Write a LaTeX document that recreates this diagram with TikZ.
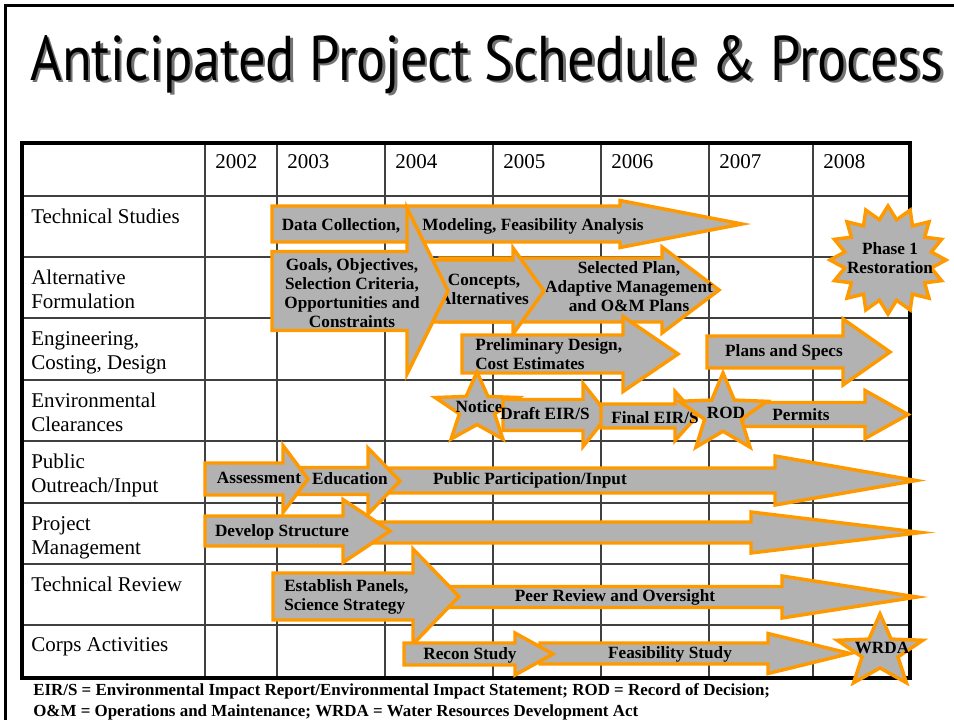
\documentclass[tikz,border=0pt]{standalone}
\usepackage{fontspec}
\setmainfont{Liberation Serif}
\newfontfamily\titlefont{PT Sans}
\usetikzlibrary{calc}

% block arrow: start, head back, tip, mid y, half body, half head
\newcommand{\blockarrow}[6]{%
  \draw[arrowbox] (#1,#4-#5) -- (#2,#4-#5) -- (#2,#4-#6) -- (#3,#4)
    -- (#2,#4+#6) -- (#2,#4+#5) -- (#1,#4+#5) -- cycle;}

% star: centre x, centre y, radius x, radius y, points, inner ratio
\newcommand{\starburst}[6]{%
  \pgfmathtruncatemacro{\nlast}{2*#5-1}%
  \draw[arrowbox] (#1,#2-#4)
    \foreach \k in {1,...,\nlast} {
      -- ({#1+#3*cos(-90+180/#5*\k)*(1-(1-#6)*mod(\k,2))},
          {#2+#4*sin(-90+180/#5*\k)*(1-(1-#6)*mod(\k,2))})
    } -- cycle;}

\begin{document}
\begin{tikzpicture}[x=0.75pt,y=-0.75pt]
    % Color definitions
    \colorlet{boxfill}{black!30}
    \definecolor{boxline}{RGB}{255,153,0}
    \colorlet{gridcol}{black!75}

    % TikZ style definitions
    \tikzset{
      arrowbox/.style={fill=boxfill,draw=boxline,line width=2.6pt,line join=miter},
      gridline/.style={gridcol,line width=1.5pt},
      boxtext/.style={font=\bfseries\fontsize{12.9}{14.2}\selectfont,align=center,inner sep=0pt},
      rowtext/.style={font=\fontsize{15.75}{18}\selectfont,align=left,anchor=north west,inner sep=0pt},
      yeartext/.style={font=\fontsize{15.75}{18}\selectfont,anchor=base west,inner sep=0pt},
      legendtext/.style={font=\bfseries\fontsize{12.7}{15}\selectfont,anchor=base west,inner sep=0pt}
    }
    \useasboundingbox (0,0) rectangle (954,719);

    % Slide frame and title
    \draw[line width=2.25pt] (5,725) -- (5,5) -- (960,5);
    \node[anchor=base west,inner sep=0pt,black!55] (titleshadow) at (32.5,82.5)
      {\resizebox{684.75pt}{33.75pt}{\titlefont Anticipated Project Schedule \& Process}};
    \node[anchor=base west,inner sep=0pt] (title) at (30,80)
      {\resizebox{684.75pt}{33.75pt}{\titlefont Anticipated Project Schedule \& Process}};

    % Table
    \foreach \y in {196,257,318,380,441,503,564,625}
      \draw[gridline] (22,\y) -- (910,\y);
    \foreach \x in {205,277,385,493,601,709,813}
      \draw[gridline] (\x,143) -- (\x,678);
    \draw[line width=2.4pt] (22,143) rectangle (910,678);

    \foreach \x/\yr in {205/2002,277/2003,385/2004,493/2005,601/2006,709/2007,813/2008}
      \node[yeartext] (year\yr) at (\x+10,168) {\yr};

    \node[rowtext] (techstudies) at (31,209) {Technical Studies};
    \node[rowtext] (altform)     at (31,270) {Alternative\\Formulation};
    \node[rowtext] (engcost)     at (31,331) {Engineering,\\Costing, Design};
    \node[rowtext] (envclear)    at (31,393) {Environmental\\Clearances};
    \node[rowtext] (outreach)    at (31,454) {Public\\Outreach/Input};
    \node[rowtext] (projmgmt)    at (31,516) {Project\\Management};
    \node[rowtext] (techreview)  at (31,577) {Technical Review};
    \node[rowtext] (corps)       at (31,637) {Corps Activities};

    % Technical studies / alternative formulation
    \blockarrow{272}{620}{742}{224}{18}{23.5}
    \node[boxtext] (datacoll) at (341,226) {Data Collection,};
    \node[boxtext] (modeling) at (533,226) {Modeling, Feasibility Analysis};
    \blockarrow{440}{662}{719}{290}{32}{43}
    \node[boxtext] (selplan) at (629,287) {Selected Plan,\\Adaptive Management\\and O\&M Plans};
    \blockarrow{420}{513}{544}{291}{31}{43}
    \node[boxtext] (concepts) at (484,289) {Concepts,\\Alternatives};
    \blockarrow{272}{407}{448}{291}{39.5}{83}
    \node[boxtext] (goals) at (352,293) {Goals, Objectives,\\Selection Criteria,\\Opportunities and\\Constraints};

    % Engineering
    \blockarrow{462}{623}{678}{354}{19}{37.5}
    \node[boxtext,align=left,anchor=west] (prelim) at (475,354) {Preliminary Design,\\Cost Estimates};
    \blockarrow{707}{843}{890}{352}{16}{33}
    \node[boxtext] (plans) at (784,352) {Plans and Specs};

    % Environmental clearances
    \starburst{477}{409}{44}{37}{5}{0.42}
    \node[boxtext] (notice) at (479,407) {Notice};
    \blockarrow{503}{583}{608}{415}{15.5}{31.5}
    \node[boxtext] (draft) at (545,414) {Draft EIR/S};
    \blockarrow{601}{675}{697}{416}{12}{24.5}
    \node[boxtext] (final) at (655,418) {Final EIR/S};
    \blockarrow{743}{865}{908}{414.5}{12}{24}
    \node[boxtext] (permits) at (801,415) {Permits};
    \starburst{723}{414}{46}{41}{5}{0.42}
    \node[boxtext] (rod) at (726,413) {ROD};

    % Public outreach
    \blockarrow{390}{775}{916}{480.5}{12.5}{24.5}
    \node[boxtext] (participation) at (530,480) {Public Participation/Input};
    \blockarrow{290}{368}{400}{481}{13.5}{33}
    \node[boxtext] (education) at (350,479) {Education};
    \blockarrow{205}{283}{308}{479}{16}{33.5}
    \node[boxtext] (assessment) at (259,478) {Assessment};

    % Project management
    \blockarrow{370}{751}{921}{532.5}{10.5}{20.5}
    \blockarrow{205}{343}{390}{531}{15}{31.5}
    \node[boxtext] (develop) at (282,532) {Develop Structure};

    % Technical review
    \blockarrow{440}{782}{917}{597}{10.5}{21}
    \node[boxtext] (peer) at (615,597) {Peer Review and Oversight};
    \blockarrow{273}{413}{459}{596.5}{23.5}{47.5}
    \node[boxtext,align=left,anchor=west] (panels) at (284,597) {Establish Panels,\\Science Strategy};

    % Corps activities
    \blockarrow{540}{768}{850}{653.5}{10.5}{20}
    \node[boxtext] (feasibility) at (670,654) {Feasibility Study};
    \blockarrow{404}{515}{553}{654}{11}{21}
    \node[boxtext] (recon) at (470,655) {Recon Study};
    \starburst{880}{652}{45}{38}{5}{0.42}
    \node[boxtext] (wrda) at (882,648) {WRDA};

    % Phase 1
    \starburst{888}{260}{58}{54}{16}{0.76}
    \node[boxtext] (phase) at (890,258) {Phase 1\\Restoration};

    % Legend
    \node[legendtext] (legendA) at (33,695) {EIR/S = Environmental Impact Report/Environmental Impact Statement; ROD = Record of Decision;};
    \node[legendtext] (legendB) at (33,716) {O\&M = Operations and Maintenance; WRDA = Water Resources Development Act};
\end{tikzpicture}
\end{document}
